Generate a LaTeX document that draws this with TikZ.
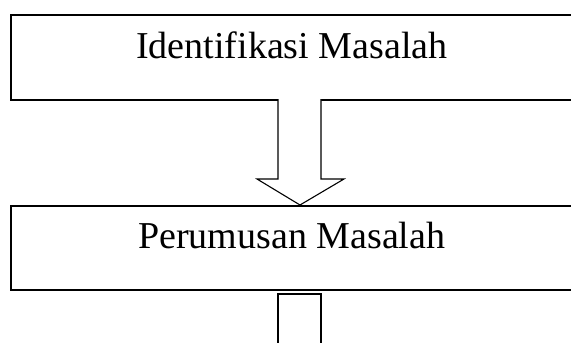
\documentclass[tikz,border=0pt]{standalone}
\usepackage{fontspec}
\setmainfont{Liberation Serif}
\begin{document}
\begin{tikzpicture}[x=1pt,y=-1pt,
  stepbox/.style={draw=black, line width=1.6pt, rectangle, inner sep=0pt, anchor=north west},
  boxtext/.style={font=\fontsize{38}{45}\selectfont, inner sep=0pt},
  bigarrow/.style={draw=black, line width=1.1pt, line join=miter, fill=white}]
\useasboundingbox (0,0) rectangle (571,343);
\node[stepbox, minimum width=562pt, minimum height=85pt] (b1) at (10,14) {};
\node[boxtext] (t1) at ([yshift=12pt]b1.center) {Identifikasi Masalah};
\node[stepbox, minimum width=562pt, minimum height=84pt] (b2) at (10,205) {};
\node[boxtext] (t2) at ([yshift=12pt]b2.center) {Perumusan Masalah};
\draw[bigarrow] (278,99) -- (278,179) -- (257,179) -- (b2.north -| 300,0) -- (344,179) -- (321,179) -- (321,99);
\draw[bigarrow] (278,360) -- (278,294) -- (321,294) -- (321,360);
\end{tikzpicture}
\end{document}
